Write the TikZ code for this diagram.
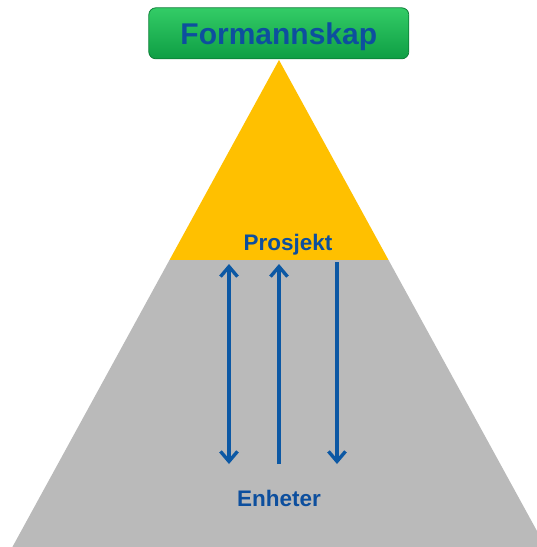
\documentclass[tikz,border=0pt]{standalone}
\usepackage{fontspec}
\setsansfont{Liberation Sans}
\usetikzlibrary{arrows.meta}

\definecolor{gul}{HTML}{FFC000}
\definecolor{graa}{HTML}{BABABA}
\definecolor{blaa}{HTML}{0C58A4}
\definecolor{tekstblaa}{HTML}{0D4F9E}
\definecolor{gronnlys}{HTML}{33CC66}
\definecolor{gronnmork}{HTML}{0E9E44}

\tikzset{
  spiss/.tip={Straight Barb[length=10pt, width=17pt, line width=3.4pt]},
  pil/.style={draw=blaa, line width=3.4pt, -spiss},
  merke/.style={text=tekstblaa, font=\sffamily\bfseries\fontsize{22.5}{26}\selectfont, anchor=base},
}

\begin{document}
\begin{tikzpicture}[x=1pt, y=-1pt]
    \useasboundingbox (0,0) rectangle (537,547);

    % Pyramide
    \coordinate (Topp) at (279, 60);
    \coordinate (VS) at (169.5, 260);
    \coordinate (HS) at (388.5, 260);
    \fill[gul] (Topp) -- (HS) -- (VS) -- cycle;
    \fill[graa] (VS) -- (HS) -- (537, 531) -- (537, 547) -- (12.4, 547) -- cycle;

    % Formannskap-boksen
    \node[draw=gronnmork!80!black, line width=0.8pt, rounded corners=7pt,
          top color=gronnlys, bottom color=gronnmork,
          minimum width=260pt, minimum height=51pt, inner sep=0pt,
          text=tekstblaa, font=\sffamily\bfseries\fontsize{30}{34}\selectfont,
          text height=21.5pt, text depth=0pt]
          (formannskap) at (278.8, 33.3) {Formannskap};

    % Tekster
    \node[merke] (prosjekt) at (288, 250.5) {Prosjekt};
    \node[merke] (enheter) at (279, 506.5) {Enheter};

    % Piler
    \coordinate (A1) at (229, 264);
    \coordinate (A2) at (229, 464);
    \coordinate (B1) at (279, 264);
    \coordinate (B2) at (279, 464);
    \coordinate (C1) at (337, 262);
    \coordinate (C2) at (337, 464);
    \draw[pil, spiss-spiss] (A1) -- (A2);
    \draw[pil] (B2) -- (B1);
    \draw[pil] (C1) -- (C2);
\end{tikzpicture}
\end{document}
